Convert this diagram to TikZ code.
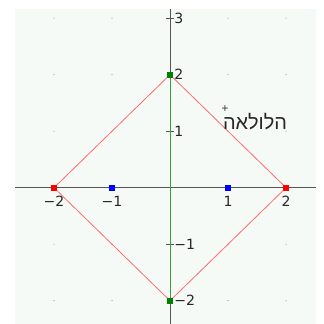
\documentclass[tikz,border=0pt]{standalone}
\usepackage{fontspec}
\setmainfont{DejaVu Sans}
\newfontfamily\hebfont[Script=Hebrew]{Liberation Sans}
\TeXXeTstate=1
\definecolor{bgc}{RGB}{246,250,247}
\definecolor{axisc}{RGB}{85,85,85}
\definecolor{dotc}{RGB}{130,130,130}
\definecolor{redl}{RGB}{255,110,110}
\definecolor{redp}{RGB}{255,0,0}
\definecolor{greenl}{RGB}{60,160,60}
\definecolor{greenp}{RGB}{0,128,0}
\definecolor{bluep}{RGB}{0,0,255}
\begin{document}
\begin{tikzpicture}[x=1.74cm,y=1.695cm,
  axis/.style={draw=axisc,line width=0.7pt},
  tickline/.style={draw=axisc,line width=0.7pt},
  ptbox/.style={rectangle,inner sep=0pt,minimum size=5pt,draw=none},
  redline/.style={draw=redl,line width=0.7pt},
  greenline/.style={draw=greenl,line width=0.8pt},
  xlbl/.style={anchor=north,inner sep=0pt,font=\fontsize{12}{12}\selectfont,text=black!85},
  ylbl/.style={anchor=west,inner sep=0pt,font=\fontsize{12}{12}\selectfont,text=black!85},
  heb/.style={inner sep=0pt,font=\hebfont\fontsize{17}{17}\selectfont,text=black!85},
  plusmark/.style={inner sep=0pt,font=\fontsize{8}{8}\selectfont,text=black!85}]
\useasboundingbox (-2.931,-2.412) rectangle (2.638,3.322);
\fill[bgc] (-2.672,-2.412) rectangle (2.517,3.163);
% grid dots
\foreach \i in {-2,-1,1,2}
  \foreach \j in {-2,-1,1,2,3}
    \fill[dotc] (\i,\j) circle (0.45pt);
% axes
\coordinate (xl) at (-2.672,0);
\coordinate (xr) at (2.517,0);
\coordinate (yb) at (0,-2.412);
\coordinate (yt) at (0,3.163);
\draw[axis] (xl) -- (xr);
\draw[axis] (yb) -- (yt);
% ticks on y axis
\foreach \j in {-1,1,3}
  \draw[tickline] (-0.07,\j) -- (0.07,\j);
% points
\node[ptbox] (R) at (2,0) {};
\node[ptbox] (L) at (-2,0) {};
\node[ptbox] (T) at (0,2) {};
\node[ptbox] (B) at (0,-2) {};
\node[ptbox] (P1) at (1,0) {};
\node[ptbox] (M1) at (-1,0) {};
% lines
\draw[redline] (R.center) -- (T.center) -- (L.center) -- (B.center) -- cycle;
\draw[greenline] (T.center) -- (B.center);
% point markers on top
\node[ptbox,fill=redp] at (R) {};
\node[ptbox,fill=redp] at (L) {};
\node[ptbox,fill=greenp] at (T) {};
\node[ptbox,fill=greenp] at (B) {};
\node[ptbox,fill=bluep] at (P1) {};
\node[ptbox,fill=bluep] at (M1) {};
% x labels
\node[xlbl] (lxm2) at (-2,-0.147) {−2};
\node[xlbl] (lxm1) at (-1,-0.147) {−1};
\node[xlbl] (lx1) at (1,-0.147) {1};
\node[xlbl] (lx2) at (2,-0.147) {2};
% y labels
\node[ylbl] (ly3) at (0.07,3) {3};
\node[ylbl] (ly2) at (0.07,2) {2};
\node[ylbl] (ly1) at (0.07,1) {1};
\node[ylbl] (lym1) at (0.07,-1) {−1};
\node[ylbl] (lym2) at (0.07,-2) {−2};
% text label
\node[plusmark] (plus) at (0.948,1.40) {+};
\node[heb] (loop) at (1.466,1.17) {\beginR הלולאה\endR};
\end{tikzpicture}
\end{document}
